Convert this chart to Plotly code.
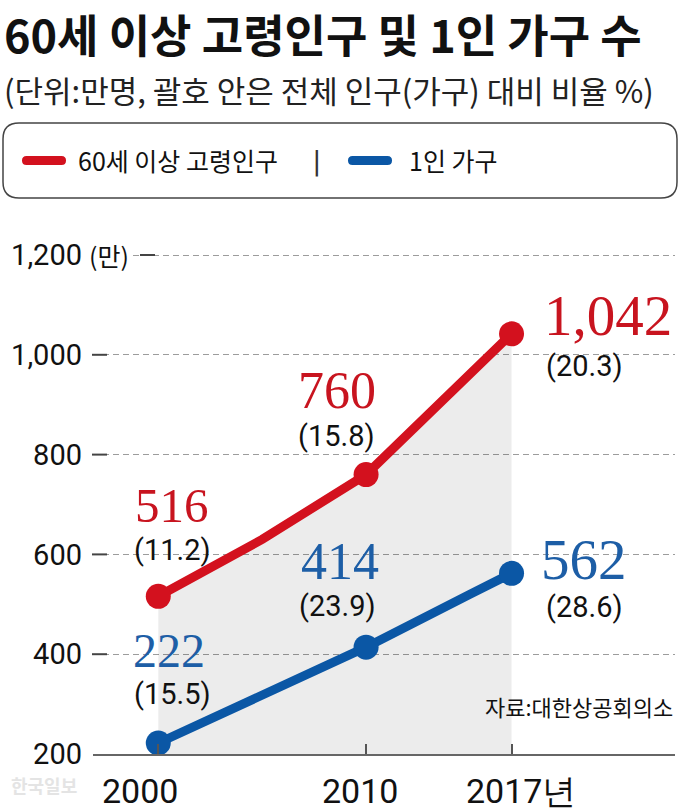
import plotly.graph_objects as go

# ---------------- data ----------------
years_red = [2000, 2005, 2010, 2017]
elderly = [516, 630, 760, 1042]           # 60세 이상 고령인구 (만명)
years_blue = [2000, 2010, 2015, 2017]
single = [222, 414, 520, 562]             # 1인 가구 (만)

label_years = [2000, 2010, 2017]
elderly_share = [11.2, 15.8, 20.3]
single_share = [15.5, 23.9, 28.6]

y_ticks = [200, 400, 600, 800, 1000, 1200]
y_tick_text = ["200", "400", "600", "800", "1,000", "1,200"]
x_ticks = [2000, 2010, 2017]
x_tick_text = ["2000", "2010", "2017년"]

title = "60세 이상 고령인구 및 1인 가구 수"
subtitle = "(단위:만명, 괄호 안은 전체 인구(가구) 대비 비율 %)"
legend_names = ["60세 이상 고령인구", "1인 가구"]
y_unit = "(만)"
source = "자료:대한상공회의소"
watermark = "한국일보"

# ---------------- style ----------------
W, H = 680, 812
TOP, BOT = 240, 754
PH = BOT - TOP
RED, BLUE = "#d3111e", "#0b57a5"
RED_TXT, BLUE_TXT = "#c8141f", "#1d5ea6"
KR = "Noto Sans CJK KR"
SANS = "Roboto"
SERIF = "Liberation Serif"

def pxx(X):
    return X / W

def pyy(Y):
    return (BOT - Y) / PH

fig = go.Figure()

# grey shaded area under the red line
fig.add_trace(go.Scatter(
    x=years_red, y=elderly, mode="lines", line=dict(width=0),
    fill="tozeroy", fillcolor="rgba(0,0,0,0.075)", hoverinfo="skip", showlegend=False))

def msizes(years):
    return [25 if y in label_years else 0 for y in years]

fig.add_trace(go.Scatter(
    x=years_red, y=elderly, mode="lines+markers",
    line=dict(color=RED, width=9),
    marker=dict(color=RED, size=msizes(years_red), opacity=1, line=dict(width=0)),
    name=legend_names[0], showlegend=False, hoverinfo="skip"))
fig.add_trace(go.Scatter(
    x=years_blue, y=single, mode="lines+markers",
    line=dict(color=BLUE, width=9),
    marker=dict(color=BLUE, size=msizes(years_blue), opacity=1, line=dict(width=0)),
    name=legend_names[1], showlegend=False, hoverinfo="skip"))

ann = []
shapes = []

# value labels
num_off_red = [(14, 91), (-29, 84), (96, 18)]
pct_off_red = [(14, 46), (-30, 39), (73, -32)]
num_off_blue = [(11, 93), (-26, 86), (72, 14)]
pct_off_blue = [(14, 49), (-29, 41), (73, -34)]
num_size_red = [49, 52, 57]
num_size_blue = [48, 52, 57]

def val_at(years, vals, yr):
    return vals[years.index(yr)]

for i, yr in enumerate(label_years):
    v = val_at(years_red, elderly, yr)
    ann.append(dict(x=yr, y=v, xref="x", yref="y", text=f"{v:,}", showarrow=False,
                    xshift=num_off_red[i][0], yshift=num_off_red[i][1], borderpad=0,
                    font=dict(family=SERIF, size=num_size_red[i], color=RED_TXT)))
    ann.append(dict(x=yr, y=v, xref="x", yref="y", text=f"({elderly_share[i]})", showarrow=False,
                    xshift=pct_off_red[i][0], yshift=pct_off_red[i][1], borderpad=0,
                    font=dict(family=SANS, size=29, color="#111")))
    v = val_at(years_blue, single, yr)
    ann.append(dict(x=yr, y=v, xref="x", yref="y", text=f"{v:,}", showarrow=False,
                    xshift=num_off_blue[i][0], yshift=num_off_blue[i][1], borderpad=0,
                    font=dict(family=SERIF, size=num_size_blue[i], color=BLUE_TXT)))
    ann.append(dict(x=yr, y=v, xref="x", yref="y", text=f"({single_share[i]})", showarrow=False,
                    xshift=pct_off_blue[i][0], yshift=pct_off_blue[i][1], borderpad=0,
                    font=dict(family=SANS, size=29, color="#111")))

# x tick labels
x_label_shift = [-18, -6, 9]
for i, yr in enumerate(x_ticks):
    ann.append(dict(x=yr, y=pyy(791), xref="x", yref="paper", text=x_tick_text[i],
                    showarrow=False, xshift=x_label_shift[i], yanchor="middle", borderpad=0,
                    font=dict(family=SANS, size=34, color="#111")))

# y unit label
ann.append(dict(x=pxx(86), y=y_ticks[-1], xref="paper", yref="y", text=y_unit, showarrow=False,
                xanchor="left", yanchor="middle", bgcolor="white", borderpad=2,
                font=dict(family=KR, size=25, color="#111")))

# short dark tick marks on the y grid
for t in y_ticks[1:]:
    x0, x1 = (140, 155) if t == y_ticks[-1] else (92, 107)
    shapes.append(dict(type="line", xref="paper", yref="y", x0=pxx(x0), x1=pxx(x1), y0=t, y1=t,
                       line=dict(color="#444", width=2), layer="above"))

# title / subtitle
ann.append(dict(x=pxx(3), y=pyy(0.3), xref="paper", yref="paper", text=f"<b>{title}</b>",
                showarrow=False, xanchor="left", yanchor="top", borderpad=0,
                font=dict(family=KR, size=45, color="#111")))
ann.append(dict(x=pxx(3), y=pyy(65.8), xref="paper", yref="paper", text=subtitle,
                showarrow=False, xanchor="left", yanchor="top", borderpad=0,
                font=dict(family=KR, size=31, color="#222")))

# legend box
def rrect(X0, Y0, X1, Y1, r):
    x0, x1 = pxx(X0), pxx(X1)
    yt, yb = pyy(Y0), pyy(Y1)
    rx, ry = r / W, r / PH
    return (f"M {x0+rx},{yt} L {x1-rx},{yt} Q {x1},{yt} {x1},{yt-ry} "
            f"L {x1},{yb+ry} Q {x1},{yb} {x1-rx},{yb} L {x0+rx},{yb} "
            f"Q {x0},{yb} {x0},{yb+ry} L {x0},{yt-ry} Q {x0},{yt} {x0+rx},{yt} Z")

shapes.append(dict(type="path", xref="paper", yref="paper", path=rrect(3, 123, 677, 198, 16),
                   line=dict(color="#444", width=1.5), fillcolor="rgba(0,0,0,0)"))
shapes.append(dict(type="path", xref="paper", yref="paper", path=rrect(22, 156, 66, 165, 4.5),
                   line=dict(width=0), fillcolor=RED))
shapes.append(dict(type="path", xref="paper", yref="paper", path=rrect(348, 156, 392, 165, 4.5),
                   line=dict(width=0), fillcolor=BLUE))
ann.append(dict(x=pxx(77), y=pyy(160), xref="paper", yref="paper", text=legend_names[0],
                showarrow=False, xanchor="left", yanchor="middle", borderpad=0,
                font=dict(family=KR, size=25, color="#111")))
ann.append(dict(x=pxx(317), y=pyy(161), xref="paper", yref="paper", text="|",
                showarrow=False, xanchor="center", yanchor="middle", borderpad=0,
                font=dict(family=SANS, size=31, color="#333")))
ann.append(dict(x=pxx(408), y=pyy(160), xref="paper", yref="paper", text=legend_names[1],
                showarrow=False, xanchor="left", yanchor="middle", borderpad=0,
                font=dict(family=KR, size=25, color="#111")))

# source & watermark
ann.append(dict(x=pxx(674), y=pyy(706), xref="paper", yref="paper", text=source,
                showarrow=False, xanchor="right", yanchor="middle", borderpad=0,
                font=dict(family=KR, size=22, color="#111")))
ann.append(dict(x=pxx(10), y=pyy(785), xref="paper", yref="paper", text=f"<b>{watermark}</b>",
                showarrow=False, xanchor="left", yanchor="middle", borderpad=0,
                font=dict(family=KR, size=18, color="#e4e4e4")))

# axis mapping: 2000->158px, 2017->511.5px ; plot x from 93 to 675
slope = 20.78
x_lo = 2009 + (93 - 345.3) / slope
x_hi = 2009 + (675 - 345.3) / slope
y_hi = 200 + PH / 0.499

fig.update_layout(
    width=W, height=H, margin=dict(l=0, r=0, t=TOP, b=H - BOT),
    paper_bgcolor="white", plot_bgcolor="white",
    xaxis=dict(domain=[pxx(93), pxx(675)], range=[x_lo, x_hi], tickvals=x_ticks,
               showticklabels=False, ticks="inside", ticklen=10, tickcolor="#555", tickwidth=1.5,
               showline=True, linecolor="#666", linewidth=1.5, showgrid=False, zeroline=False,
               layer="above traces"),
    yaxis=dict(range=[200, y_hi], tickvals=y_ticks, ticktext=y_tick_text, showline=False,
               ticks="", showgrid=True, gridcolor="#9c9c9c", gridwidth=1, griddash="6px,4px",
               zeroline=False, ticklabelstandoff=10,
               tickfont=dict(family=SANS, size=29, color="#111")),
    annotations=ann, shapes=shapes, showlegend=False,
)

fig.write_html("out.html")
